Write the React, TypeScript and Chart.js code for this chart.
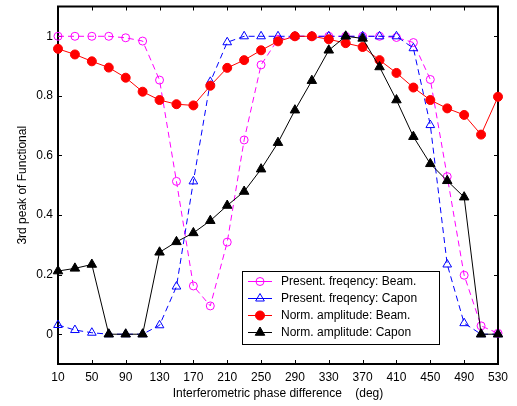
import React, { useEffect, useRef } from "react";
import { Chart, registerables } from "chart.js";
Chart.register(...registerables);

const phase = [10, 30, 50, 70, 90, 110, 130, 150, 170, 190, 210, 230, 250, 270, 290, 310, 330, 350, 370, 390, 410, 430, 450, 470, 490, 510, 530];
const freqBeam = [1.0, 1.0, 1.0, 1.0, 0.995, 0.984, 0.853, 0.513, 0.162, 0.095, 0.309, 0.652, 0.904, 0.99, 1.0, 1.0, 1.0, 1.0, 1.0, 1.0, 0.996, 0.979, 0.855, 0.529, 0.198, 0.028, 0.003];
const freqCapon = [0.031, 0.014, 0.005, 0, 0, 0, 0.03, 0.16, 0.513, 0.847, 0.98, 1.0, 1.0, 1.0, 1.0, 1.0, 1.0, 1.0, 1.0, 1.0, 1.0, 0.96, 0.702, 0.234, 0.037, 0, 0];
const ampBeam = [0.958, 0.939, 0.916, 0.895, 0.861, 0.814, 0.786, 0.772, 0.768, 0.834, 0.894, 0.92, 0.953, 0.983, 1.0, 1.0, 0.99, 0.977, 0.964, 0.92, 0.877, 0.828, 0.786, 0.758, 0.736, 0.67, 0.797];
const ampCapon = [0.212, 0.221, 0.234, 0, 0, 0, 0.275, 0.31, 0.34, 0.381, 0.432, 0.479, 0.554, 0.643, 0.752, 0.851, 0.953, 1.0, 0.993, 0.897, 0.786, 0.663, 0.572, 0.515, 0.46, 0, 0];
const xTicks = [10, 50, 90, 130, 170, 210, 250, 290, 330, 370, 410, 450, 490, 530];
const yTicks = [0, 0.2, 0.4, 0.6, 0.8, 1];
const seriesNames = [
  "Present. freqency: Beam.",
  "Present. freqency: Capon",
  "Norm. amplitude: Beam.",
  "Norm. amplitude: Capon",
];
const xTitle = "Interferometric phase difference    (deg)";
const yTitle = "3rd peak of Functional";

const FONT = "'Liberation Sans', Arial, Helvetica, sans-serif";

const pts = (ys: number[]) => phase.map((x, i) => ({ x, y: ys[i] }));

const styles = [
  { color: "#ff00ff", style: "circle", radius: 4, fill: false, dash: [6, 4], order: 4 },
  { color: "#0000ff", style: "triangle", radius: 5, fill: false, dash: [6, 4], order: 3 },
  { color: "#ff0000", style: "circle", radius: 4.5, fill: true, dash: [], order: 2 },
  { color: "#000000", style: "triangle", radius: 5.5, fill: true, dash: [], order: 1 },
];

const boxPlugin = {
  id: "boxTicks",
  beforeDatasetsDraw(chart: any) {
    const { ctx, chartArea } = chart;
    const { left, right, top, bottom } = chartArea;
    const xs = chart.scales.x;
    const ys = chart.scales.y;
    ctx.save();
    ctx.strokeStyle = "#000";
    ctx.lineWidth = 1;
    ctx.beginPath();
    const tl = 4;
    xTicks.forEach((v) => {
      const px = Math.round(xs.getPixelForValue(v)) + 0.5;
      ctx.moveTo(px, bottom);
      ctx.lineTo(px, bottom - tl);
      ctx.moveTo(px, top);
      ctx.lineTo(px, top + tl);
    });
    yTicks.forEach((v) => {
      const py = Math.round(ys.getPixelForValue(v)) + 0.5;
      ctx.moveTo(left, py);
      ctx.lineTo(left + tl, py);
      ctx.moveTo(right, py);
      ctx.lineTo(right - tl, py);
    });
    ctx.stroke();
    ctx.lineWidth = 2;
    ctx.strokeRect(left, top, right - left, bottom - top);
    ctx.restore();
  },
  afterDraw(chart: any) {
    const { ctx } = chart;
    ctx.save();
    const bx = 242, by = 271, bw = 197, bh = 73;
    ctx.fillStyle = "#fff";
    ctx.fillRect(bx, by, bw, bh);
    ctx.strokeStyle = "#000";
    ctx.lineWidth = 1;
    ctx.strokeRect(bx + 0.5, by + 0.5, bw, bh);
    const rows = [281, 298, 315, 332];
    ctx.font = `12px ${FONT}`;
    ctx.textBaseline = "middle";
    ctx.textAlign = "left";
    seriesNames.forEach((name, i) => {
      const s = styles[i];
      const y = rows[i] + 0.5;
      ctx.strokeStyle = s.color;
      ctx.lineWidth = 1;
      ctx.beginPath();
      ctx.moveTo(248, y);
      ctx.lineTo(272, y);
      ctx.stroke();
      ctx.beginPath();
      const cx = 260, r = s.radius;
      if (s.style === "circle") {
        ctx.arc(cx, y, r, 0, Math.PI * 2);
      } else {
        ctx.moveTo(cx, y - r);
        ctx.lineTo(cx + (Math.sqrt(3) / 2) * r, y + r / 2);
        ctx.lineTo(cx - (Math.sqrt(3) / 2) * r, y + r / 2);
        ctx.closePath();
      }
      if (s.fill) {
        ctx.fillStyle = s.color;
        ctx.fill();
      }
      ctx.stroke();
      ctx.fillStyle = "#000";
      ctx.fillText(name, 281, y);
    });
    ctx.restore();
  },
};

export default function App() {
  const ref = useRef<HTMLCanvasElement | null>(null);
  useEffect(() => {
    if (!ref.current) return;
    const datasets = [freqBeam, freqCapon, ampBeam, ampCapon].map((ys, i) => {
      const s = styles[i];
      return {
        label: seriesNames[i],
        data: pts(ys),
        borderColor: s.color,
        backgroundColor: s.fill ? s.color : "rgba(0,0,0,0)",
        borderWidth: 1,
        borderDash: s.dash,
        pointStyle: s.style,
        pointRadius: s.radius,
        pointBorderWidth: 1,
        pointBorderColor: s.color,
        pointBackgroundColor: s.fill ? s.color : "rgba(0,0,0,0)",
        tension: 0,
        clip: false,
        order: s.order,
      };
    });
    const chart = new Chart(ref.current, {
      type: "line",
      data: { datasets } as any,
      plugins: [boxPlugin],
      options: {
        animation: false,
        responsive: false,
        maintainAspectRatio: false,
        devicePixelRatio: 1,
        layout: { padding: { top: 5, right: 19, bottom: 0, left: 0 } },
        plugins: { legend: { display: false }, tooltip: { enabled: false } },
        scales: {
          x: {
            type: "linear",
            min: 10,
            max: 530,
            grid: { display: false, drawTicks: false },
            border: { display: false },
            afterBuildTicks: (sc: any) => {
              sc.ticks = xTicks.map((v) => ({ value: v }));
            },
            afterFit: (sc: any) => {
              sc.height = 42;
              sc.paddingLeft = 0;
              sc.paddingRight = 0;
            },
            ticks: {
              color: "#000",
              padding: 6,
              maxRotation: 0,
              autoSkip: false,
              font: { family: FONT, size: 12 },
              callback: (v: any) => String(v),
            },
            title: {
              display: true,
              text: xTitle,
              color: "#000",
              font: { family: FONT, size: 12 },
              padding: { top: 0, bottom: 5 },
            },
          },
          y: {
            type: "linear",
            min: -0.1,
            max: 1.1,
            grid: { display: false, drawTicks: false },
            border: { display: false },
            afterBuildTicks: (sc: any) => {
              sc.ticks = yTicks.map((v) => ({ value: v }));
            },
            afterFit: (sc: any) => {
              sc.width = 58;
              sc.paddingTop = 0;
              sc.paddingBottom = 0;
            },
            ticks: {
              color: "#000",
              padding: 5,
              autoSkip: false,
              font: { family: FONT, size: 12 },
              callback: (v: any) => String(Math.round(Number(v) * 10) / 10),
            },
            title: {
              display: true,
              text: yTitle,
              color: "#000",
              font: { family: FONT, size: 12 },
              padding: { top: 15, bottom: 0 },
            },
          },
        },
      } as any,
    });
    return () => chart.destroy();
  }, []);
  return (
    <div style={{ position: "fixed", left: 0, top: 0, width: 517, height: 406, background: "#fff" }}>
      <canvas ref={ref} width={517} height={406} style={{ width: 517, height: 406, display: "block" }} />
    </div>
  );
}
